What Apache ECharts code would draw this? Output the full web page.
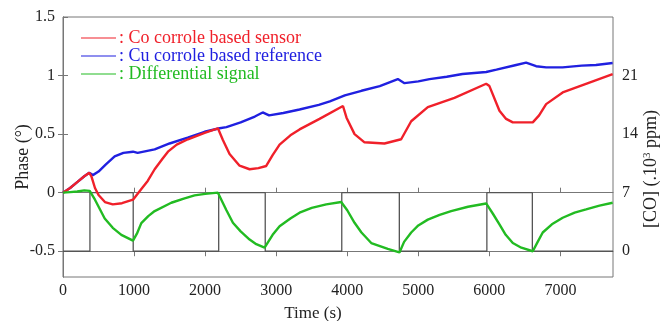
<!DOCTYPE html>
<html>
<head>
<meta charset="utf-8">
<script src="https://cdn.jsdelivr.net/npm/echarts@6/dist/echarts.min.js"></script>
<style>html,body{margin:0;padding:0;background:#fff}#c{width:661px;height:321px}</style>
</head>
<body>
<div id="c"></div>
<script>
// Time (s) / phase (°) samples
var sensorT = [0,100,200,300,370,400,450,500,590,700,830,985,1100,1192,1290,1400,1477,1600,1758,1993,2180,2250,2344,2485,2626,2750,2860,2950,3048,3200,3329,3610,3940,3990,4103,4243,4524,4759,4900,5134,5509,5955,6001,6142,6236,6330,6611,6700,6799,7032,7408,7735];
var sensorV = [0,0.04,0.09,0.14,0.17,0.14,0.04,-0.02,-0.08,-0.10,-0.09,-0.06,0.03,0.10,0.20,0.29,0.35,0.41,0.456,0.51,0.55,0.45,0.33,0.23,0.20,0.21,0.228,0.32,0.41,0.49,0.54,0.63,0.74,0.64,0.50,0.43,0.42,0.456,0.61,0.73,0.81,0.93,0.91,0.70,0.63,0.60,0.60,0.66,0.756,0.856,0.94,1.013];
var refT = [0,100,200,300,370,420,500,600,727,850,985,1050,1290,1500,1755,1993,2204,2300,2500,2700,2810,2900,3100,3329,3600,3755,3966,4200,4458,4712,4806,5000,5158,5400,5622,5955,6100,6377,6517,6658,6800,7030,7300,7500,7735];
var refV = [0,0.04,0.09,0.14,0.17,0.15,0.18,0.24,0.31,0.34,0.35,0.34,0.37,0.42,0.47,0.52,0.55,0.56,0.60,0.65,0.685,0.66,0.68,0.71,0.75,0.78,0.83,0.87,0.91,0.97,0.935,0.95,0.97,0.99,1.013,1.03,1.05,1.09,1.11,1.08,1.07,1.07,1.085,1.09,1.107];
var diffT = [0,100,200,300,376,450,587,700,821,985,1040,1102,1200,1290,1524,1700,1852,2000,2180,2300,2391,2500,2626,2720,2837,2950,3048,3200,3329,3500,3705,3915,4000,4103,4200,4338,4571,4735,4800,4900,5000,5134,5300,5462,5700,5955,6050,6142,6230,6330,6450,6611,6680,6751,6880,7032,7200,7361,7550,7735];
var diffV = [0,0.005,0.01,0.02,0.015,-0.06,-0.22,-0.30,-0.36,-0.41,-0.35,-0.26,-0.20,-0.157,-0.086,-0.05,-0.023,-0.01,0.0,-0.15,-0.257,-0.33,-0.40,-0.44,-0.47,-0.36,-0.286,-0.22,-0.171,-0.13,-0.10,-0.08,-0.15,-0.257,-0.34,-0.43,-0.48,-0.51,-0.42,-0.34,-0.28,-0.23,-0.19,-0.157,-0.12,-0.092,-0.18,-0.27,-0.36,-0.43,-0.47,-0.50,-0.42,-0.34,-0.27,-0.214,-0.17,-0.143,-0.11,-0.086];
// CO concentration steps (x10^3 ppm)
var coT = [0,379,988,2191,2846,3923,4733,5965,6605,7740];
var coV = [0,7,0,7,0,7,0,7,0,0];
// tick labels
var xTicks = [0,1000,2000,3000,4000,5000,6000,7000];
var phaseTicks = [-0.5,0,0.5,1,1.5];
var coTicks = [0,7,14,21];
var names = ['Co corrole based sensor','Cu corrole based reference','Differential signal'];
var colors = ['#f0202a','#2020e0','#22bb22'];

function zip(a,b){return a.map(function(v,i){return [v,b[i]];});}
var font = 'Liberation Serif';
var axisCol = '#777';
var txt = '#222';
var plain = function(v){return String(v);};
var chart = echarts.init(document.getElementById('c'));
chart.setOption({
  animation:false,
  backgroundColor:'#fff',
  textStyle:{fontFamily:font},
  grid:{left:63,right:48,top:17,bottom:44,containLabel:false,outerBoundsMode:'none',show:true,borderColor:axisCol,borderWidth:1,backgroundColor:'transparent'},
  legend:{
    orient:'vertical',left:76,top:24,itemWidth:35,itemHeight:10,itemGap:0,
    icon:'path://M0,5 L35,5 L35,6 L0,6 Z',
    data:names.map(function(n,i){return {name:n,textStyle:{color:colors[i]},itemStyle:{color:colors[i]}};}),
    formatter:function(n){return ': '+n;},
    textStyle:{fontFamily:font,fontSize:18,lineHeight:17.5,padding:[0,0,0,-2]}
  },
  xAxis:[{
    type:'value',min:0,max:7740,position:'bottom',
    name:'Time (s)',nameLocation:'middle',nameGap:28,nameMoveOverlap:false,
    nameTextStyle:{fontFamily:font,fontSize:17,color:txt,padding:[0,50,0,0]},
    axisLine:{show:true,lineStyle:{color:axisCol}},
    axisTick:{show:true,inside:true,length:5,customValues:xTicks,lineStyle:{color:axisCol}},
    axisLabel:{customValues:xTicks,formatter:plain,fontFamily:font,fontSize:16,color:txt,margin:6},
    splitLine:{show:false}
  },{
    type:'value',min:0,max:7740,position:'top',
    axisLine:{show:true,lineStyle:{color:axisCol}},
    axisTick:{show:true,inside:true,length:5,customValues:xTicks,lineStyle:{color:axisCol}},
    axisLabel:{show:false},splitLine:{show:false}
  }],
  yAxis:[{
    type:'value',min:-0.72,max:1.5,position:'left',
    name:'Phase (°)',nameLocation:'middle',nameGap:31,nameRotate:90,nameMoveOverlap:false,
    nameTextStyle:{fontFamily:font,fontSize:18,color:txt,padding:[0,20,0,0]},
    axisLine:{show:true,lineStyle:{color:axisCol}},
    axisTick:{show:true,inside:true,length:5,customValues:phaseTicks,lineStyle:{color:axisCol}},
    axisLabel:{customValues:phaseTicks,formatter:plain,fontFamily:font,fontSize:16,color:txt,margin:8},
    splitLine:{show:false}
  },{
    type:'value',min:-3.08,max:28,position:'right',
    name:'{a|[CO] (.10}{s|3}{a| ppm)}',nameLocation:'middle',nameGap:29,nameRotate:90,nameMoveOverlap:false,
    nameTextStyle:{padding:[0,44,0,0],rich:{a:{fontFamily:font,fontSize:18,color:txt},s:{fontFamily:font,fontSize:11,color:txt,verticalAlign:'top',padding:[0,0,7,0]}}},
    axisLine:{show:true,lineStyle:{color:axisCol}},
    axisTick:{show:true,inside:true,length:5,customValues:coTicks,lineStyle:{color:axisCol}},
    axisLabel:{customValues:coTicks,formatter:plain,fontFamily:font,fontSize:16,color:txt,margin:9},
    splitLine:{show:false}
  }],
  series:[
    {name:'[CO]',type:'line',xAxisIndex:0,yAxisIndex:1,step:'end',data:zip(coT,coV),symbol:'none',
     lineStyle:{color:'#555',width:1.3},z:1,silent:true},
    {name:names[0],type:'line',data:zip(sensorT,sensorV),symbol:'none',lineStyle:{color:colors[0],width:2.4},itemStyle:{color:colors[0]},z:3},
    {name:names[1],type:'line',data:zip(refT,refV),symbol:'none',lineStyle:{color:colors[1],width:2.4},itemStyle:{color:colors[1]},z:2},
    {name:names[2],type:'line',data:zip(diffT,diffV),symbol:'none',lineStyle:{color:colors[2],width:2.4},itemStyle:{color:colors[2]},z:4}
  ]
});
</script>
</body>
</html>
